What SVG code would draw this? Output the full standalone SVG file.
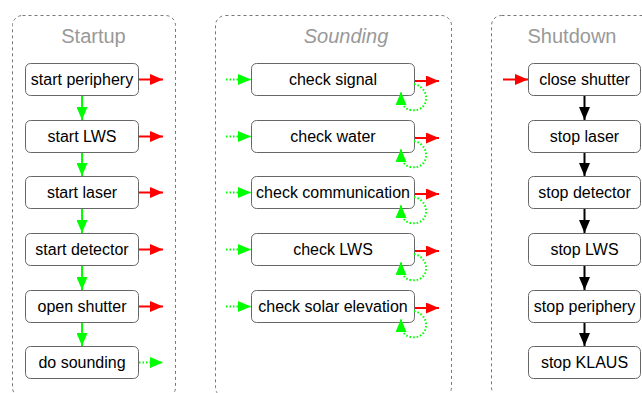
<svg xmlns="http://www.w3.org/2000/svg" width="642" height="393" viewBox="0 0 642 393">
  <style>
    .lane { fill: #ffffff; stroke: #777777; stroke-width: 1; stroke-dasharray: 3 3; }
    .title { font-family: "Liberation Sans", Arial, sans-serif; font-size: 20px; fill: #999999; text-anchor: middle; }
    .box { fill: #ffffff; stroke: #666666; stroke-width: 1; }
    .lbl { font-family: "Liberation Sans", Arial, sans-serif; font-size: 16px; fill: #000000; text-anchor: middle; }
    .green { fill: none; stroke: #00ff00; stroke-width: 2; marker-end: url(#headGreen); }
    .dotted { fill: none; stroke: #00ff00; stroke-width: 2; stroke-dasharray: 1.5 2; marker-end: url(#headGreen); }
    .red { fill: none; stroke: #ff0000; stroke-width: 2; marker-end: url(#headRed); }
    .black { fill: none; stroke: #000000; stroke-width: 2; marker-end: url(#headBlack); }
  </style>
  <defs>
    <marker id="headGreen" viewBox="0 0 13 11" refX="13" refY="5.5" markerWidth="13" markerHeight="11" markerUnits="userSpaceOnUse" orient="auto">
      <path d="M0,0 L13,5.5 L0,11 Z" fill="#00ff00"/>
    </marker>
    <marker id="headRed" viewBox="0 0 13 11" refX="13" refY="5.5" markerWidth="13" markerHeight="11" markerUnits="userSpaceOnUse" orient="auto">
      <path d="M0,0 L13,5.5 L0,11 Z" fill="#ff0000"/>
    </marker>
    <marker id="headBlack" viewBox="0 0 13 11" refX="13" refY="5.5" markerWidth="13" markerHeight="11" markerUnits="userSpaceOnUse" orient="auto">
      <path d="M0,0 L13,5.5 L0,11 Z" fill="#000000"/>
    </marker>
  </defs>

  <!-- swimlane containers -->
  <g id="lane-startup">
    <rect class="lane" x="12.5" y="15.5" width="163" height="382" rx="10"/>
    <text class="title" x="93.5" y="43">Startup</text>
  </g>
  <g id="lane-sounding">
    <rect class="lane" x="215.5" y="15.5" width="236" height="382" rx="10"/>
    <text class="title" x="346" y="43" font-style="italic">Sounding</text>
  </g>
  <g id="lane-shutdown">
    <rect class="lane" x="491.5" y="15.5" width="162" height="382" rx="10"/>
    <text class="title" x="572" y="43">Shutdown</text>
  </g>

  <!-- startup steps -->
  <g id="start-periphery"><rect class="box" x="25.5" y="63.5" width="113" height="32" rx="5"/><text class="lbl" x="82" y="85">start periphery</text></g>
  <g id="start-lws"><rect class="box" x="25.5" y="120.5" width="113" height="32" rx="5"/><text class="lbl" x="82" y="142">start LWS</text></g>
  <g id="start-laser"><rect class="box" x="25.5" y="176.5" width="113" height="32" rx="5"/><text class="lbl" x="82" y="198">start laser</text></g>
  <g id="start-detector"><rect class="box" x="25.5" y="233.5" width="113" height="32" rx="5"/><text class="lbl" x="82" y="255">start detector</text></g>
  <g id="open-shutter"><rect class="box" x="25.5" y="290.5" width="113" height="32" rx="5"/><text class="lbl" x="82" y="312">open shutter</text></g>
  <g id="do-sounding"><rect class="box" x="25.5" y="346.5" width="113" height="32" rx="5"/><text class="lbl" x="82" y="368">do sounding</text></g>

  <!-- sounding checks -->
  <g id="check-signal"><rect class="box" x="251.5" y="63.5" width="163" height="32" rx="5"/><text class="lbl" x="333" y="85">check signal</text></g>
  <g id="check-water"><rect class="box" x="251.5" y="120.5" width="163" height="32" rx="5"/><text class="lbl" x="333" y="142">check water</text></g>
  <g id="check-communication"><rect class="box" x="251.5" y="176.5" width="163" height="32" rx="5"/><text class="lbl" x="333" y="198">check communication</text></g>
  <g id="check-lws"><rect class="box" x="251.5" y="233.5" width="163" height="32" rx="5"/><text class="lbl" x="333" y="255">check LWS</text></g>
  <g id="check-solar"><rect class="box" x="251.5" y="290.5" width="163" height="32" rx="5"/><text class="lbl" x="333" y="312">check solar elevation</text></g>

  <!-- shutdown steps -->
  <g id="close-shutter"><rect class="box" x="528.5" y="63.5" width="112" height="32" rx="5"/><text class="lbl" x="584.5" y="85">close shutter</text></g>
  <g id="stop-laser"><rect class="box" x="528.5" y="120.5" width="112" height="32" rx="5"/><text class="lbl" x="584.5" y="142">stop laser</text></g>
  <g id="stop-detector"><rect class="box" x="528.5" y="176.5" width="112" height="32" rx="5"/><text class="lbl" x="584.5" y="198">stop detector</text></g>
  <g id="stop-lws"><rect class="box" x="528.5" y="233.5" width="112" height="32" rx="5"/><text class="lbl" x="584.5" y="255">stop LWS</text></g>
  <g id="stop-periphery"><rect class="box" x="528.5" y="290.5" width="112" height="32" rx="5"/><text class="lbl" x="584.5" y="312">stop periphery</text></g>
  <g id="stop-klaus"><rect class="box" x="528.5" y="346.5" width="112" height="32" rx="5"/><text class="lbl" x="584.5" y="368">stop KLAUS</text></g>

  <g id="connectors">
    <!-- startup chain -->
    <path class="green" d="M82,96 V120"/>
    <path class="green" d="M82,153 V176"/>
    <path class="green" d="M82,209 V233"/>
    <path class="green" d="M82,266 V290"/>
    <path class="green" d="M82,323 V346"/>
    <path class="red" d="M139,79.5 H163"/>
    <path class="red" d="M139,136.5 H163"/>
    <path class="red" d="M139,192.5 H163"/>
    <path class="red" d="M139,249.5 H163"/>
    <path class="red" d="M139,306.5 H163"/>
    <path class="dotted" d="M139,362.5 H163"/>

    <!-- sounding inputs -->
    <path class="dotted" d="M226,79.5 H251"/>
    <path class="dotted" d="M226,136.5 H251"/>
    <path class="dotted" d="M226,192.5 H251"/>
    <path class="dotted" d="M226,249.5 H251"/>
    <path class="dotted" d="M226,306.5 H251"/>
    <!-- sounding failure exits -->
    <path class="red" d="M415,81 H439"/>
    <path class="red" d="M415,138 H439"/>
    <path class="red" d="M415,194 H439"/>
    <path class="red" d="M415,251 H439"/>
    <path class="red" d="M415,308 H439"/>
    <!-- sounding retry loops -->
    <path class="dotted" d="M414,84 C432,88 429,113 411,110 C404,109 401,104 401,92"/>
    <path class="dotted" d="M414,141 C432,145 429,170 411,167 C404,166 401,161 401,149"/>
    <path class="dotted" d="M414,197 C432,201 429,226 411,223 C404,222 401,217 401,205"/>
    <path class="dotted" d="M414,254 C432,258 429,283 411,280 C404,279 401,274 401,262"/>
    <path class="dotted" d="M414,311 C432,315 429,340 411,337 C404,336 401,331 401,319"/>

    <!-- shutdown chain -->
    <path class="red" d="M503,79.5 H528"/>
    <path class="black" d="M584.5,96 V120"/>
    <path class="black" d="M584.5,153 V176"/>
    <path class="black" d="M584.5,209 V233"/>
    <path class="black" d="M584.5,266 V290"/>
    <path class="black" d="M584.5,323 V346"/>
  </g>
</svg>
